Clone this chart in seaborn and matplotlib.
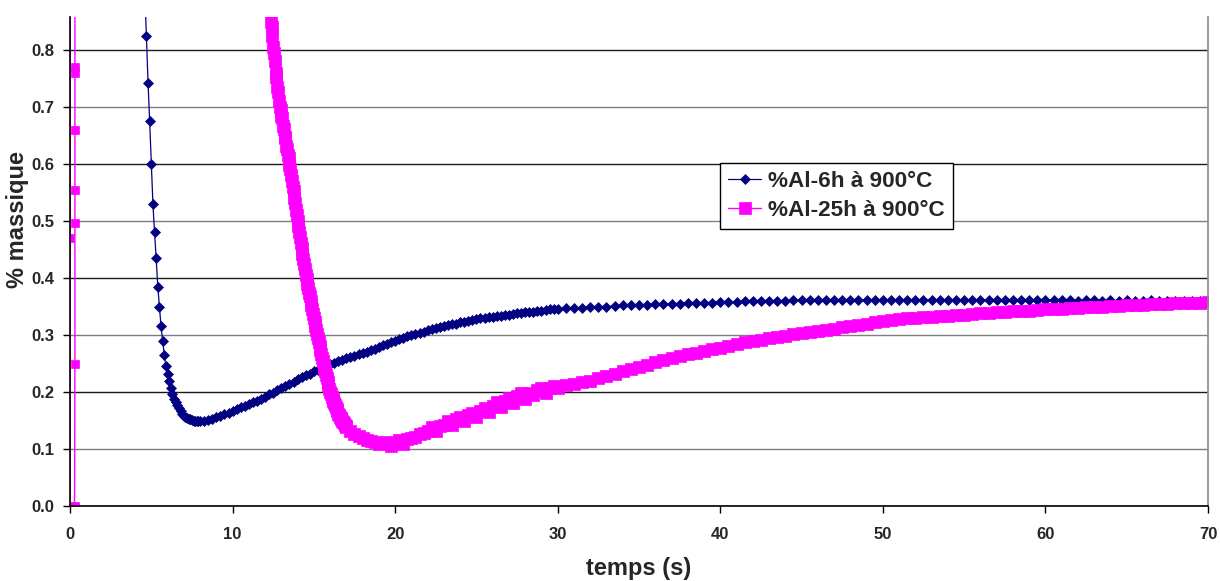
import numpy as np
import pandas as pd
import matplotlib
matplotlib.use('Agg')
import matplotlib.pyplot as plt
from matplotlib.ticker import FormatStrFormatter
import seaborn as sns

# values (temps in s, % massique)
label_6h = "%Al-6h à 900°C"
label_25h = "%Al-25h à 900°C"

# --- %Al-6h : steep drop, sampled every 0.1 s from 4.5 s
t_6h_a = np.round(np.arange(4.5, 8.01, 0.1), 2)
al_6h_a = [0.99, 0.90, 0.825, 0.743, 0.675, 0.60, 0.53, 0.48, 0.435, 0.385,
           0.35, 0.315, 0.29, 0.265, 0.245, 0.232, 0.22, 0.207, 0.196, 0.188,
           0.182, 0.177, 0.172, 0.167, 0.162, 0.158, 0.156, 0.155, 0.153, 0.152,
           0.151, 0.150, 0.150, 0.149, 0.149, 0.149]
# every 0.25 s from 8.25 s to 30 s
t_6h_b = np.round(np.arange(8.25, 30.01, 0.25), 2)
al_6h_b = [0.150, 0.151, 0.153, 0.156, 0.158, 0.161, 0.164, 0.167, 0.170, 0.173,
           0.176, 0.179, 0.182, 0.185, 0.188, 0.192, 0.196, 0.199, 0.203, 0.207,
           0.211, 0.214, 0.218, 0.222, 0.226, 0.229, 0.232, 0.236, 0.239, 0.243,
           0.246, 0.249, 0.251, 0.254, 0.257, 0.259, 0.262, 0.264, 0.266, 0.268,
           0.271, 0.274, 0.276, 0.279, 0.282, 0.285, 0.287, 0.290, 0.293, 0.295,
           0.298, 0.300, 0.302, 0.304, 0.306, 0.308, 0.310, 0.312, 0.314, 0.316,
           0.317, 0.319, 0.320, 0.322, 0.323, 0.325, 0.326, 0.328, 0.329, 0.330,
           0.331, 0.332, 0.333, 0.334, 0.335, 0.336, 0.337, 0.338, 0.339, 0.340,
           0.341, 0.341, 0.342, 0.343, 0.344, 0.345, 0.345, 0.346]
# every 0.5 s from 30.5 s to 70 s
t_6h_c = np.round(np.arange(30.5, 70.01, 0.5), 2)
al_6h_c = [0.347, 0.348, 0.348, 0.349, 0.350, 0.350, 0.351, 0.352, 0.352, 0.353,
           0.353, 0.354, 0.354, 0.355, 0.355, 0.356, 0.356, 0.357, 0.357, 0.358,
           0.358, 0.358, 0.359, 0.359, 0.359, 0.360, 0.360, 0.360, 0.361, 0.362,
           0.361, 0.362, 0.361, 0.362, 0.361, 0.362, 0.362, 0.361, 0.362, 0.362,
           0.361, 0.362, 0.361, 0.362, 0.361, 0.362, 0.361, 0.361, 0.362, 0.361,
           0.362, 0.361, 0.361, 0.362, 0.361, 0.361, 0.362, 0.361, 0.361, 0.361,
           0.362, 0.361, 0.361, 0.360, 0.361, 0.361, 0.360, 0.361, 0.360, 0.361,
           0.360, 0.360, 0.361, 0.360, 0.360, 0.360, 0.360, 0.360, 0.360, 0.360]

# --- %Al-25h : first spike near t = 0 (goes off the top of the chart)
t_25h_0 = [0.0, 0.0, 0.0, 0.3, 0.3, 0.3, 0.3, 0.3, 0.3, 0.3, 0.28]
al_25h_0 = [0.0, 0.47, 3.0, 3.0, 0.77, 0.76, 0.66, 0.555, 0.497, 0.25, 0.0]
# steep drop, every 0.05 s from 12.2 s to 17 s
t_25h_a = np.round(np.arange(12.2, 17.001, 0.05), 2)
al_25h_a = [0.900, 0.880, 0.870, 0.850, 0.840, 0.825, 0.805, 0.795, 0.780, 0.760,
            0.752, 0.735, 0.727, 0.710, 0.700, 0.695,
            0.684, 0.680, 0.666, 0.662, 0.648, 0.645, 0.632, 0.627, 0.615, 0.610,
            0.598, 0.592, 0.580, 0.571, 0.560, 0.552, 0.540, 0.532, 0.519, 0.511,
            0.500, 0.491, 0.480, 0.472, 0.461, 0.452, 0.442, 0.434, 0.424, 0.415,
            0.405, 0.398, 0.390, 0.383, 0.374, 0.368, 0.359, 0.352, 0.345, 0.337,
            0.330, 0.323, 0.316, 0.309, 0.302, 0.295, 0.288, 0.281, 0.274, 0.267,
            0.260, 0.254, 0.248, 0.242, 0.236, 0.230, 0.224, 0.218, 0.212, 0.206,
            0.200, 0.196, 0.192, 0.188, 0.184, 0.181, 0.177, 0.173, 0.170, 0.166,
            0.161, 0.159, 0.157, 0.154, 0.152, 0.150, 0.147, 0.145, 0.143, 0.140,
            0.138]
# every 0.25 s from 17.25 s to 30 s
t_25h_b = np.round(np.arange(17.25, 30.01, 0.25), 2)
al_25h_b = [0.132, 0.127, 0.122, 0.119, 0.116, 0.114, 0.112, 0.108, 0.110, 0.113,
            0.106, 0.111, 0.115, 0.109, 0.117, 0.119, 0.121, 0.126, 0.128, 0.131,
            0.138, 0.132, 0.141, 0.142, 0.150, 0.143, 0.153, 0.156, 0.150, 0.160,
            0.163, 0.157, 0.166, 0.172, 0.165, 0.176, 0.182, 0.173, 0.185, 0.190,
            0.181, 0.193, 0.198, 0.188, 0.199, 0.195, 0.203, 0.207, 0.199, 0.207,
            0.211, 0.207]
# every 0.5 s from 30.5 s to 70 s
t_25h_c = np.round(np.arange(30.5, 70.01, 0.5), 2)
al_25h_c = [0.212, 0.214, 0.217, 0.220, 0.224, 0.228, 0.232, 0.236, 0.240, 0.244,
            0.248, 0.252, 0.256, 0.259, 0.263, 0.266, 0.269, 0.272, 0.275, 0.278,
            0.281, 0.284, 0.287, 0.290, 0.292, 0.295, 0.297, 0.299, 0.301, 0.303,
            0.305, 0.307, 0.309, 0.311, 0.314, 0.316, 0.318, 0.320, 0.322, 0.324,
            0.326, 0.328, 0.329, 0.330, 0.331, 0.332, 0.333, 0.334, 0.335, 0.336,
            0.337, 0.338, 0.339, 0.340, 0.341, 0.342, 0.343, 0.343, 0.344, 0.345,
            0.346, 0.346, 0.347, 0.348, 0.349, 0.349, 0.350, 0.351, 0.351, 0.352,
            0.353, 0.353, 0.354, 0.355, 0.355, 0.356, 0.356, 0.357, 0.357, 0.358]

x_ticks = [0, 10, 20, 30, 40, 50, 60, 70]
y_ticks = [0.0, 0.1, 0.2, 0.3, 0.4, 0.5, 0.6, 0.7, 0.8]

df_6h = pd.DataFrame({"t": np.concatenate([t_6h_a, t_6h_b, t_6h_c]),
                      "al": al_6h_a + al_6h_b + al_6h_c})
df_25h_spike = pd.DataFrame({"t": t_25h_0, "al": al_25h_0})
df_25h = pd.DataFrame({"t": np.concatenate([t_25h_a, t_25h_b, t_25h_c]),
                       "al": al_25h_a + al_25h_b + al_25h_c})

sns.set_theme(style="white")
plt.rcParams['font.family'] = ['Liberation Sans', 'DejaVu Sans']
plt.rcParams['font.weight'] = 'bold'

navy = "#000080"
pink = "#FF00FF"

fig = plt.figure(figsize=(12.2, 5.81), dpi=100)
ax = fig.add_axes([70 / 1220, 75 / 581, 1138 / 1220, 489 / 581])

sns.lineplot(data=df_6h, x="t", y="al", ax=ax, color=navy, marker="D",
             markersize=5.5, mec=navy, mfc=navy, mew=0.5, linewidth=0.9,
             estimator=None, sort=False, label=label_6h)
sns.lineplot(data=df_25h_spike, x="t", y="al", ax=ax, color=pink, marker="s",
             markersize=6, mec=pink, mfc=pink, mew=0.5, linewidth=1.0,
             estimator=None, sort=False, legend=False)
sns.lineplot(data=df_25h, x="t", y="al", ax=ax, color=pink, marker="s",
             markersize=8, mec=pink, mfc=pink, mew=0.5, linewidth=1.0,
             estimator=None, sort=False, label=label_25h)

ax.set_xlim(0, 70)
ax.set_ylim(0, 0.858)
ax.set_xticks(x_ticks)
ax.set_yticks(y_ticks)
ax.yaxis.set_major_formatter(FormatStrFormatter('%.1f'))
ax.tick_params(axis='both', labelsize=12, length=5, width=1, color='black',
               direction='out', bottom=True, left=True)
ax.tick_params(axis='x', pad=10)
ax.tick_params(axis='y', pad=6)
for lab in ax.get_xticklabels() + ax.get_yticklabels():
    lab.set_fontweight('bold')

ax.yaxis.grid(True, linewidth=1.0)
for i, gl in enumerate(ax.get_ygridlines()):
    gl.set_color('#1a1a1a' if i % 2 == 0 else '#7f7f7f')
ax.xaxis.grid(False)
ax.set_axisbelow(True)

ax.spines['top'].set_visible(False)
ax.spines['right'].set_color('#8a8a8a')
ax.spines['right'].set_linewidth(1.2)
ax.spines['left'].set_color('black')
ax.spines['bottom'].set_color('black')
ax.spines['left'].set_linewidth(1.2)
ax.spines['bottom'].set_linewidth(1.2)

ax.set_xlabel("temps (s)", fontsize=17, fontweight='bold')
ax.set_ylabel("% massique", fontsize=17, fontweight='bold')
ax.xaxis.set_label_coords(0.5, -0.104)
ax.yaxis.set_label_coords(-0.036, 0.585)

handles, labels = ax.get_legend_handles_labels()
leg = ax.legend(handles, labels, loc='upper left', bbox_to_anchor=(0.571, 0.701),
                prop={'size': 16.2, 'weight': 'bold'}, frameon=True, fancybox=False,
                framealpha=1, edgecolor='black', borderpad=0.35, labelspacing=0.35,
                handlelength=1.5, handletextpad=0.3, borderaxespad=0)
leg.get_frame().set_linewidth(1.0)

fig.savefig("out.png", dpi=100)
